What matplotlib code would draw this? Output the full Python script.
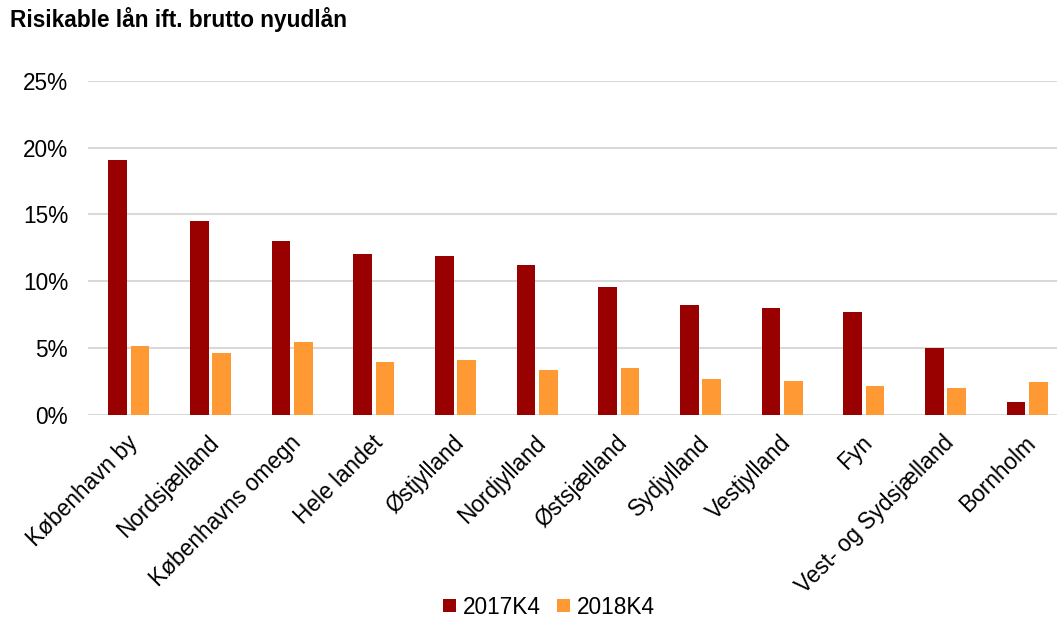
import numpy as np
import matplotlib
matplotlib.use("Agg")
import matplotlib.pyplot as plt
import matplotlib.transforms as mtransforms
from matplotlib.ticker import PercentFormatter

plt.rcParams['font.family'] = ['Liberation Sans', 'DejaVu Sans']

regions = ["København by", "Nordsjælland", "Københavns omegn", "Hele landet",
           "Østjylland", "Nordjylland", "Østsjælland", "Sydjylland",
           "Vestjylland", "Fyn", "Vest- og Sydsjælland", "Bornholm"]
q2017 = [19.05, 14.5, 13.0, 12.05, 11.9, 11.2, 9.58, 8.23, 7.98, 7.73, 5.03, 0.95]
q2018 = [5.13, 4.63, 5.43, 3.95, 4.1, 3.35, 3.5, 2.68, 2.53, 2.15, 2.0, 2.48]
series = ["2017K4", "2018K4"]
colors = ["#990000", "#FF9933"]

fig = plt.figure(figsize=(10.57, 6.18), dpi=100)
W, H = 1057, 618
ax = fig.add_axes([88 / W, (H - 414.7) / H, (1068 - 88) / W, (414.7 - 81) / H])

x = np.arange(len(regions))
bw = 0.23
off = 0.137
ax.bar(x - off, np.array(q2017) / 100, bw, color=colors[0], label=series[0], zorder=3)
ax.bar(x + off, np.array(q2018) / 100, bw, color=colors[1], label=series[1], zorder=3)

ax.set_xlim(-0.5, len(regions) - 0.5)
ax.set_ylim(0, 0.25)
ax.set_yticks(np.arange(0, 0.26, 0.05))
ax.yaxis.set_major_formatter(PercentFormatter(1.0, decimals=0))
ax.grid(axis='y', color='#d9d9d9', linewidth=1.5, zorder=0)
ax.set_axisbelow(True)
for s in ax.spines.values():
    s.set_visible(False)
ax.tick_params(axis='y', length=0, labelsize=16.3, pad=14.4, colors='black')
ax.tick_params(axis='x', length=0, labelsize=16.3, pad=12)
ax.set_xticks(x)
ax.set_xticklabels(regions, rotation=45, ha='right', rotation_mode='anchor')
shift = mtransforms.ScaledTranslation(-3 / 100, 0, fig.dpi_scale_trans)
for lbl in ax.get_xticklabels():
    lbl.set_transform(lbl.get_transform() + shift)

fig.text(10 / W, 1 - 20 / H, "Risikable lån ift. brutto nyudlån", fontsize=16.3,
         fontweight='bold', va='center', ha='left')

fig.legend(loc='center', bbox_to_anchor=(549 / W, 1 - 607 / H), ncol=2, frameon=False,
           fontsize=16.3, handlelength=0.55, handleheight=0.55, handletextpad=0.3,
           columnspacing=0.75)

fig.savefig("out.png", dpi=100)
